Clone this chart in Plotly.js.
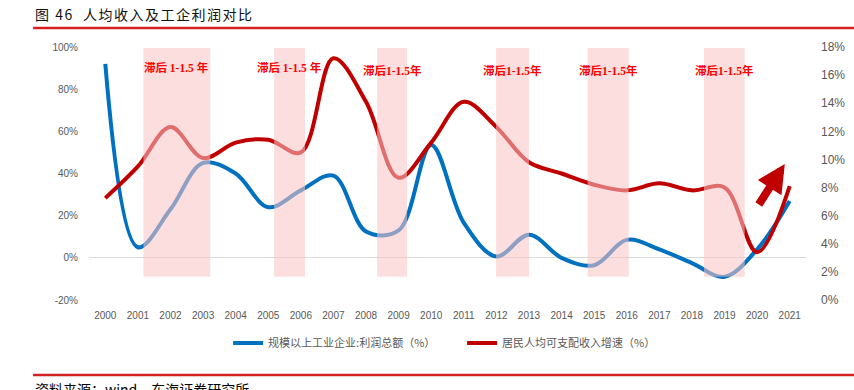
<!DOCTYPE html>
<html>
<head>
<meta charset="utf-8">
<script src="https://cdn.plot.ly/plotly-3.0.1.min.js"></script>
<style>html,body{margin:0;padding:0;background:#fff;}#chart{width:854px;height:390px;}</style>
</head>
<body>
<div id="chart"></div>
<script>
// ---- data ----
const years = [2000,2001,2002,2003,2004,2005,2006,2007,2008,2009,2010,2011,2012,2013,2014,2015,2016,2017,2018,2019,2020,2021];
const profitGrowth = [92,5,23,45,40,24,32,39,12.5,13,53.5,16.6,0.6,11,0,-3.5,8.5,4,-2.5,-9,4,27];
const incomeGrowth = [7.25,9.5,12.3,10.1,11.2,11.4,10.5,17.2,14.1,8.7,11.2,14.1,12.3,9.8,9.0,8.2,7.8,8.3,7.8,8.0,3.4,8.1];
const seriesNames = ['规模以上工业企业:利润总额（%）','居民人均可支配收入增速（%）'];
const leftTicks = [-20,0,20,40,60,80,100];
const leftTickText = ['-20%','0%','20%','40%','60%','80%','100%'];
const rightTicks = [0,2,4,6,8,10,12,14,16,18];
const rightTickText = ['0%','2%','4%','6%','8%','10%','12%','14%','16%','18%'];
// lag bands [start, end] on year scale
const bandStart = [2001.17,2005.18,2008.34,2011.99,2014.80,2018.37];
const bandEnd   = [2003.22,2006.13,2009.26,2013.00,2016.06,2019.62];
const bandLabels = ['滞后 1-1.5 年','滞后 1-1.5 年','滞后1-1.5年','滞后1-1.5年','滞后1-1.5年','滞后1-1.5年'];

const traces = [
  {x: years, y: profitGrowth, name: seriesNames[0], type: 'scatter', mode: 'lines',
   line: {color: '#0070c0', width: 4, shape: 'spline', smoothing: 1}, yaxis: 'y'},
  {x: years, y: incomeGrowth, name: seriesNames[1], type: 'scatter', mode: 'lines',
   line: {color: '#c00000', width: 4, shape: 'spline', smoothing: 1}, yaxis: 'y2'}
];

const shapes = [];
const annotations = [];
for (let i = 0; i < bandStart.length; i++) {
  shapes.push({type: 'rect', xref: 'x', yref: 'y', x0: bandStart[i], x1: bandEnd[i], y0: -9, y1: 99.5,
    fillcolor: 'rgb(251,196,196)', opacity: 0.56, line: {width: 0}, layer: 'above'});
  annotations.push({xref: 'x', yref: 'paper', x: (bandStart[i] + bandEnd[i]) / 2, y: (300 - (i < 2 ? 67 : 70)) / 253,
    text: '<b>' + bandLabels[i] + '</b>', showarrow: false, xanchor: 'center', yanchor: 'middle',
    font: {family: 'Liberation Serif, Noto Sans CJK SC, serif', size: 11.5, color: '#ff0000'}});
}
// title underline and footer line
shapes.push({type: 'line', xref: 'paper', yref: 'paper', x0: -0.078, x1: 1.07, y0: (300 - 28) / 253, y1: (300 - 28) / 253,
  line: {color: '#d42020', width: 2.5}});
shapes.push({type: 'line', xref: 'paper', yref: 'paper', x0: -0.078, x1: 1.07, y0: (300 - 375) / 253, y1: (300 - 375) / 253,
  line: {color: '#d42020', width: 2.5}});

// upward arrow
annotations.push({xref: 'x', yref: 'y', x: 2020.85, y: 44.5, ax: -27, ay: 42, axref: 'pixel', ayref: 'pixel',
  text: '', showarrow: true, arrowhead: 2, arrowsize: 0.7, arrowwidth: 8, arrowcolor: '#c00000'});
// source note
annotations.push({xref: 'paper', yref: 'paper', x: -0.078, y: (300 - 389) / 253, xanchor: 'left', yanchor: 'middle',
  text: '资料来源：wind，东海证券研究所', showarrow: false,
  font: {family: 'Noto Sans CJK SC, sans-serif', size: 14, color: '#000'}});

const layout = {
  width: 854, height: 390,
  margin: {l: 89, r: 48, t: 47, b: 90},
  paper_bgcolor: '#fff', plot_bgcolor: '#fff',
  title: {text: '图 46  人均收入及工企利润对比', x: 35 / 854, xanchor: 'left', xref: 'container',
    y: 1 - 15 / 390, yanchor: 'middle', yref: 'container',
    font: {family: 'Noto Sans CJK SC, sans-serif', size: 14, color: '#111'}},
  showlegend: true,
  legend: {orientation: 'h', x: 0.194, y: -0.17, xanchor: 'left', yanchor: 'middle',
    font: {family: 'Noto Sans CJK SC, sans-serif', size: 11, color: '#595959'}, entrywidth: 189, entrywidthmode: 'pixels',
    bgcolor: 'rgba(0,0,0,0)'},
  xaxis: {range: [1999.5, 2021.5], tickmode: 'array', tickvals: years, ticktext: years.map(String),
    showgrid: false, zeroline: false, showline: false, ticks: '', ticklabelstandoff: 8,
    tickfont: {family: 'Liberation Sans Narrow, Arial Narrow, sans-serif', size: 10, color: '#595959'}, fixedrange: true},
  yaxis: {range: [-20, 100], tickmode: 'array', tickvals: leftTicks, ticktext: leftTickText,
    showgrid: false, zeroline: true, zerolinecolor: '#d9d9d9', zerolinewidth: 1, showline: false, ticks: '',
    ticklabelstandoff: 10, tickfont: {family: 'Liberation Sans, Arial, sans-serif', size: 10, color: '#595959'}},
  yaxis2: {range: [0, 18], overlaying: 'y', side: 'right', tickmode: 'array', tickvals: rightTicks, ticktext: rightTickText,
    showgrid: false, zeroline: false, showline: false, ticks: '', ticklabelstandoff: 14,
    tickfont: {family: 'Liberation Sans, Arial, sans-serif', size: 12, color: '#595959'}},
  shapes: shapes,
  annotations: annotations
};

Plotly.newPlot('chart', traces, layout, {staticPlot: true, displayModeBar: false}).then(function () {
  const t = document.querySelector('.gtitle');
  if (t) t.style.letterSpacing = '1.5px';
});
</script>
</body>
</html>
